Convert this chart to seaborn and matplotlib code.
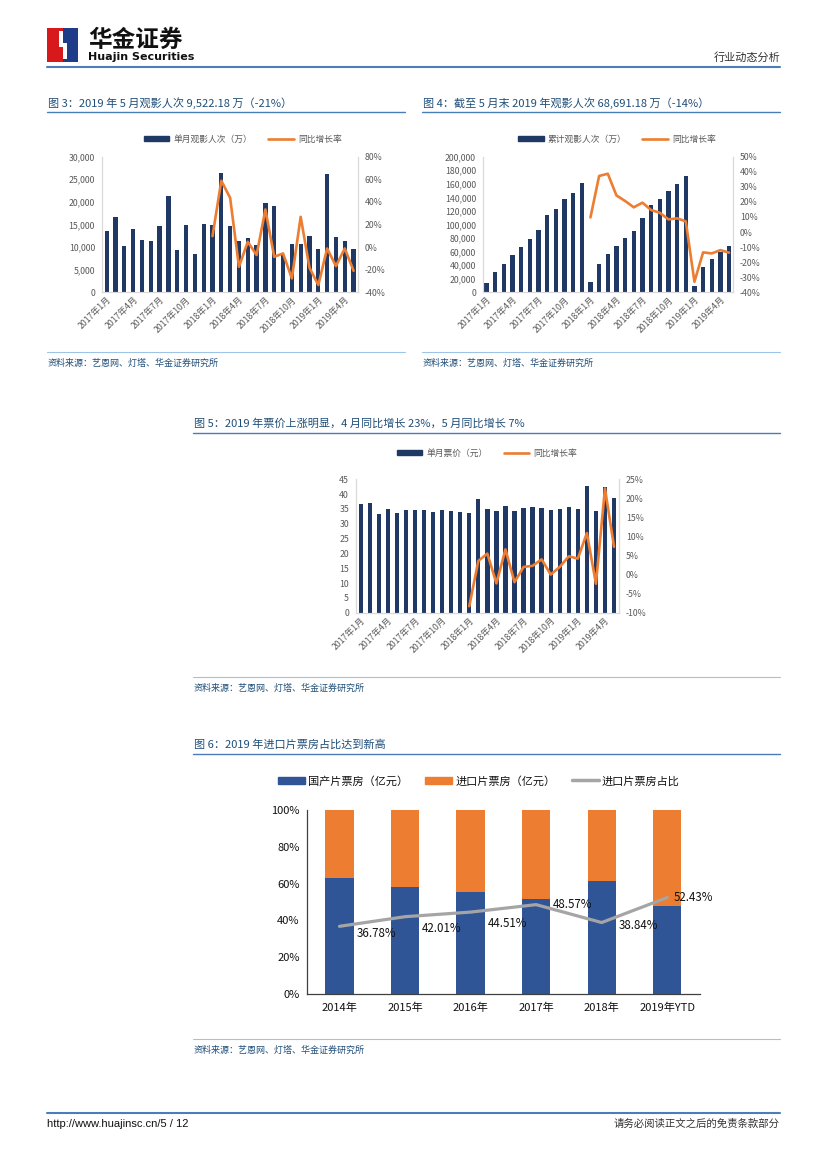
import matplotlib.pyplot as plt
import seaborn as sns
from matplotlib.patches import Rectangle, Patch, Polygon
from matplotlib.lines import Line2D
from matplotlib.ticker import FuncFormatter

# Data
months = [f"{y}年{m}月" for y in (2017, 2018, 2019) for m in range(1, 13)][:29]

monthly_admissions = [13500, 16700, 10200, 14000, 11600, 11300, 14700, 21300, 9400, 15000, 8500, 15100,
                      14800, 26500, 14700, 11400, 12100, 10500, 19700, 19200, 8300, 10600, 10700, 12400,
                      9600, 26150, 12200, 11250, 9522]
monthly_yoy = [9.7, 58.7, 43.6, -17.4, 4.7, -7.0, 33.3, -8.6, -5.6, -27.7, 26.8, -18.3,
               -33.6, -1.2, -16.8, -1.2, -21.0]

cumulative_admissions = [13800, 30500, 41300, 55000, 66300, 78100, 92400, 113500, 122900, 137600, 146000, 161200,
                         14800, 41800, 56500, 68300, 80100, 90900, 110100, 129200, 138100, 148900, 159700, 171500,
                         9900, 36900, 48600, 59900, 68691]
cumulative_yoy = [9.7, 37.2, 38.7, 24.3, 20.6, 16.4, 19.5, 14.6, 12.8, 8.4, 9.1, 7.1,
                  -33.0, -13.5, -14.2, -12.0, -13.7]

ticket_price = [36.7, 37.1, 33.3, 35.1, 33.6, 34.8, 34.6, 34.8, 33.9, 34.5, 34.2, 33.9,
                33.7, 38.3, 35.0, 34.4, 35.9, 34.3, 35.2, 35.5, 35.2, 34.5, 34.9, 35.5,
                35.0, 42.6, 34.3, 42.5, 38.7]
price_yoy = [-8.3, 3.6, 5.5, -2.3, 6.6, -2.0, 2.0, 2.3, 4.0, 0.0, 2.0, 4.8,
             4.2, 10.9, -2.4, 22.6, 7.3]

years = ["2014年", "2015年", "2016年", "2017年", "2018年", "2019年YTD"]
import_share = [36.78, 42.01, 44.51, 48.57, 38.84, 52.43]

# colours
NAVY = "#1F3864"
ORANGE = "#ED7D31"
BLUE6 = "#2F5597"
GRAY6 = "#A5A5A5"
TITLE_C = "#1F4E79"
LINE_C = "#4A7EBB"
SRC_C = "#1F4E79"
TICK_C = "#595959"

sns.set_theme(style="white")
plt.rcParams['font.family'] = ['Noto Sans CJK SC', 'DejaVu Sans']
plt.rcParams['axes.unicode_minus'] = False

W, H = 827, 1169
fig = plt.figure(figsize=(W / 100, H / 100), dpi=100)


def fx(x):
    return x / W


def fy(y):
    return 1 - y / H


def px_axes(x0, y0, x1, y1):
    return fig.add_axes([fx(x0), fy(y1), fx(x1) - fx(x0), fy(y0) - fy(y1)])


def hline(x0, x1, y, color, lw):
    fig.add_artist(Line2D([fx(x0), fx(x1)], [fy(y), fy(y)], color=color, lw=lw))


# ---- page header ----
fig.add_artist(Rectangle((fx(47), fy(62)), fx(16), fy(28) - fy(62), color="#D7191C", lw=0))
fig.add_artist(Rectangle((fx(63), fy(62)), fx(15), fy(28) - fy(62), color="#1F3C88", lw=0))
fig.add_artist(Polygon([(fx(59), fy(31)), (fx(63), fy(31)), (fx(63), fy(43)), (fx(67), fy(43)),
                        (fx(67), fy(59)), (fx(63), fy(59)), (fx(63), fy(47)), (fx(59), fy(47))],
                       closed=True, color="white", lw=0))
fig.text(fx(88), fy(40), "华金证券", fontsize=17, fontweight="bold", color="#111111", va="center")
fig.text(fx(88), fy(57.5), "Huajin Securities", fontsize=8, fontweight="bold", color="#111111",
         va="center", family="DejaVu Sans")
fig.text(fx(780), fy(57), "行业动态分析", fontsize=8, color="#333333", ha="right", va="center")
hline(47, 780, 67, LINE_C, 1.5)

# ---- footer ----
hline(47, 780, 1113, LINE_C, 1.5)
fig.text(fx(47), fy(1124), "http://www.huajinsc.cn/5 / 12", fontsize=8, color="#111111",
         va="center", family="Liberation Sans")
fig.text(fx(780), fy(1124), "请务必阅读正文之后的免责条款部分", fontsize=7.5, color="#333333",
         ha="right", va="center")


def title(x0, x1, y, text):
    fig.text(fx(x0 + 1), fy(y), text, fontsize=8, color=TITLE_C, va="center")
    hline(x0, x1, y + 9, LINE_C, 1.0)


def source(x0, x1, y):
    hline(x0, x1, y - 11, "#9DC3E6", 0.8)
    fig.text(fx(x0 + 1), fy(y), "资料来源：艺恩网、灯塔、华金证券研究所", fontsize=6.5,
             color=SRC_C, va="center", style="italic")


pct = FuncFormatter(lambda v, p: f"{v:.0f}%")
comma = FuncFormatter(lambda v, p: f"{v:,.0f}")


def dual_chart(box, bars, line, bar_name, ylim, ystep, yfmt, rlim, rstep, xlim, leg_xy):
    ax = px_axes(*box)
    sns.barplot(x=months, y=bars, ax=ax, color=NAVY, width=0.48, saturation=1,
                linewidth=0, edgecolor="none")
    ax.set_xlim(*xlim)
    ax.set_ylim(*ylim)
    ax.set_yticks([ylim[0] + i * ystep for i in range(int(round((ylim[1] - ylim[0]) / ystep)) + 1)])
    ax.yaxis.set_major_formatter(yfmt)
    ax.set_xticks(range(0, 29, 3))
    ax.set_xticklabels(months[::3], rotation=45, ha="right", rotation_mode="anchor")
    ax.set_xlabel("")
    ax.set_ylabel("")
    ax2 = ax.twinx()
    sns.lineplot(x=list(range(12, 29)), y=line, ax=ax2, color=ORANGE, lw=1.9)
    ax2.set_ylim(*rlim)
    ax2.set_yticks([rlim[0] + i * rstep for i in range(int(round((rlim[1] - rlim[0]) / rstep)) + 1)])
    ax2.yaxis.set_major_formatter(pct)
    ax2.set_ylabel("")
    for a in (ax, ax2):
        for s in a.spines.values():
            s.set_color("#D9D9D9")
            s.set_linewidth(0.8)
        a.spines["top"].set_visible(False)
        a.tick_params(length=0, labelsize=6.3, colors=TICK_C, pad=5)
        a.grid(False)
    ax.tick_params(axis="x", pad=2)
    handles = [Patch(color=NAVY), Line2D([], [], color=ORANGE, lw=1.9)]
    fig.legend(handles, [bar_name, "同比增长率"], loc="center", ncol=2, frameon=False,
               bbox_to_anchor=(fx(leg_xy[0]), fy(leg_xy[1])), fontsize=6.3,
               handlelength=2.9, handleheight=0.6, columnspacing=1.8, handletextpad=0.5,
               labelcolor=TICK_C)
    return ax


# ---- figure 3 ----
title(47, 405, 103, "图 3：2019 年 5 月观影人次 9,522.18 万（-21%）")
dual_chart((102, 156.7, 358, 292.3), monthly_admissions, monthly_yoy, "单月观影人次（万）",
           (0, 30000), 5000, comma, (-40, 80), 20, (-0.53, 28.5), (243, 139))
source(47, 405, 363)

# ---- figure 4 ----
title(422, 780, 103, "图 4：截至 5 月末 2019 年观影人次 68,691.18 万（-14%）")
dual_chart((483, 156.7, 733, 292.3), cumulative_admissions, cumulative_yoy, "累计观影人次（万）",
           (0, 200000), 20000, comma, (-40, 50), 10, (-0.4, 28.45), (617, 139))
source(422, 780, 363)

# ---- figure 5 ----
title(193, 780, 424, "图 5：2019 年票价上涨明显，4 月同比增长 23%，5 月同比增长 7%")
dual_chart((356, 479.3, 619, 612.7), ticket_price, price_yoy, "单月票价（元）",
           (0, 45), 5, FuncFormatter(lambda v, p: f"{v:.0f}"), (-10, 25), 5, (-0.52, 28.55), (487, 453))
source(193, 780, 688)

# ---- figure 6 ----
title(193, 780, 745, "图 6：2019 年进口片票房占比达到新高")
ax6 = px_axes(306.7, 810, 700, 994)
domestic_share = [100 - v for v in import_share]
total = [d + i for d, i in zip(domestic_share, import_share)]
sns.barplot(x=years, y=total, ax=ax6, color=ORANGE, width=0.43, saturation=1, linewidth=0, edgecolor="none")
sns.barplot(x=years, y=domestic_share, ax=ax6, color=BLUE6, width=0.43, saturation=1, linewidth=0, edgecolor="none")
ax6.plot(range(len(years)), import_share, color=GRAY6, lw=2.3)
label_offsets = [(17, -7), (17, -12), (17, -11), (17, 0), (17, -3), (6, 0)]
for i, v in enumerate(import_share):
    ax6.annotate(f"{v:.2f}%", (i, v), xytext=label_offsets[i], textcoords="offset pixels",
                 ha="left", va="center", fontsize=8.3, color="#111111", annotation_clip=False)
ax6.set_xlim(-0.5, 5.5)
ax6.set_ylim(0, 100)
ax6.set_yticks(range(0, 101, 20))
ax6.yaxis.set_major_formatter(pct)
ax6.set_xlabel("")
ax6.set_ylabel("")
for s in ("top", "right"):
    ax6.spines[s].set_visible(False)
for s in ("left", "bottom"):
    ax6.spines[s].set_color("#404040")
    ax6.spines[s].set_linewidth(0.9)
ax6.tick_params(axis="y", length=3, width=0.8, color="#404040", labelsize=8, labelcolor="#111111", pad=2)
ax6.tick_params(axis="x", length=0, labelsize=8, labelcolor="#111111", pad=6)
ax6.grid(False)
h6 = [Patch(color=BLUE6), Patch(color=ORANGE), Line2D([], [], color=GRAY6, lw=2.5)]
fig.legend(h6, ["国产片票房（亿元）", "进口片票房（亿元）", "进口片票房占比"], loc="center", ncol=3,
           frameon=False, bbox_to_anchor=(fx(479), fy(781)), fontsize=8,
           handlelength=2.4, handleheight=0.7, columnspacing=1.5, handletextpad=0.3,
           labelcolor="#111111")
source(193, 780, 1050)

fig.savefig("out.png", dpi=100)
